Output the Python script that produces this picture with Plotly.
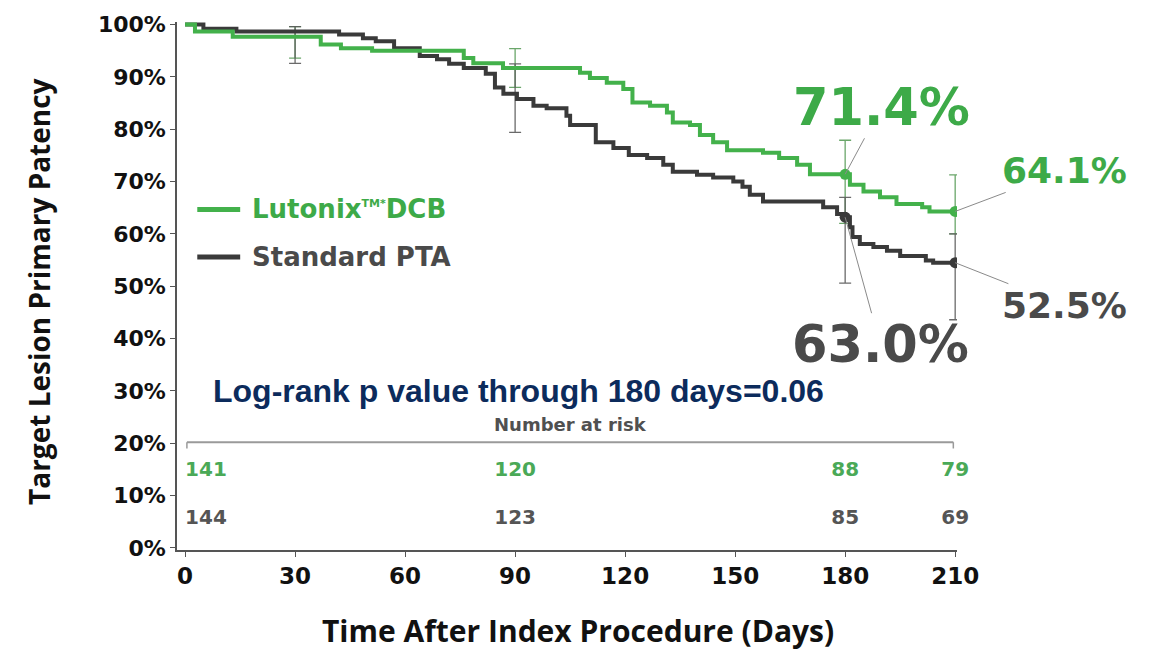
import plotly.graph_objects as go

# ---- Data ----
dcb_days = [0, 2.7, 13, 37, 42.5, 51, 76, 78.6, 86.7, 107.7, 110.4, 115, 119.5, 122, 126.8,
            131.4, 133, 137.7, 140.4, 144, 147.8, 157.6, 162, 166.9, 170.4, 181.3, 185,
            189.5, 194, 201, 203, 210]
dcb_patency = [100, 98.7, 97.7, 96.2, 95.5, 95.0, 93.6, 92.6, 91.7, 90.8, 89.8, 88.9, 87.7,
               85.1, 84.5, 83.2, 81.3, 80.8, 78.9, 77.5, 76.0, 75.5, 74.5, 73.2, 71.4, 69.4,
               68.1, 67.0, 65.7, 65.1, 64.3, 64.3]

pta_days = [0, 5, 14, 42, 48.5, 52, 57, 64, 68.7, 72, 76, 82, 84.5, 86.8, 90.5, 95, 98.6,
            104, 105, 112, 116.8, 121, 126, 130.4, 133, 139.6, 144, 149.5, 152, 154, 157.6,
            174, 177.8, 180, 181.3, 182, 184, 187.7, 191.4, 195, 202, 204, 210]
pta_patency = [100, 99.2, 98.7, 98.1, 97.4, 96.8, 95.5, 94.0, 93.4, 92.5, 91.7, 90.6, 88.0,
               86.8, 85.8, 84.5, 84.0, 82.6, 80.8, 77.5, 76.4, 75.1, 74.5, 73.2, 71.9, 71.3,
               70.8, 70.0, 69.0, 67.5, 66.2, 65.1, 63.8, 63.2, 61.3, 59.4, 58.1, 57.5, 56.8,
               55.8, 54.9, 54.5, 54.5]

ci_days = [30, 90, 180, 210]
dcb_ci_mid = [97.7, 91.7, 71.4, 64.3]
dcb_ci_upper = [99.6, 95.4, 77.9, 71.3]
dcb_ci_lower = [93.6, 88.0, 62.0, 60.0]
pta_ci_mid = [98.7, 85.8, 63.2, 54.5]
pta_ci_upper = [99.6, 92.5, 67.0, 60.0]
pta_ci_lower = [92.6, 79.4, 50.6, 43.6]

marker_days = [180, 210]
dcb_marker_vals = [71.4, 64.3]
pta_marker_vals = [63.2, 54.5]
dcb_labels = ["71.4%", "64.1%"]
pta_labels = ["63.0%", "52.5%"]

risk_days = [0, 90, 180, 210]
dcb_at_risk = [141, 120, 88, 79]
pta_at_risk = [144, 123, 85, 69]

x_ticks = [0, 30, 60, 90, 120, 150, 180, 210]
y_ticks = [0, 10, 20, 30, 40, 50, 60, 70, 80, 90, 100]
y_tick_text = [f"{v}%" for v in y_ticks]

GREEN = "#43b14b"
GREEN_TXT = "#3daa48"
DARK = "#3a3a3a"
GREY_TXT = "#4a4a4a"

fig = go.Figure()

# confidence bars
fig.add_trace(go.Scatter(
    x=ci_days, y=dcb_ci_mid, mode="markers", marker=dict(size=1, opacity=0),
    error_y=dict(type="data", symmetric=False,
                 array=[u - m for u, m in zip(dcb_ci_upper, dcb_ci_mid)],
                 arrayminus=[m - l for m, l in zip(dcb_ci_mid, dcb_ci_lower)],
                 color="rgba(80,150,80,0.85)", thickness=1.3, width=6),
    showlegend=False, hoverinfo="skip"))
fig.add_trace(go.Scatter(
    x=ci_days, y=pta_ci_mid, mode="markers", marker=dict(size=1, opacity=0),
    error_y=dict(type="data", symmetric=False,
                 array=[u - m for u, m in zip(pta_ci_upper, pta_ci_mid)],
                 arrayminus=[m - l for m, l in zip(pta_ci_mid, pta_ci_lower)],
                 color="rgba(90,90,90,0.9)", thickness=1.3, width=6),
    showlegend=False, hoverinfo="skip"))

# KM curves
fig.add_trace(go.Scatter(x=pta_days, y=pta_patency, mode="lines", line_shape="hv",
                         line=dict(color=DARK, width=4), name="Standard PTA", showlegend=False))
fig.add_trace(go.Scatter(x=dcb_days, y=dcb_patency, mode="lines", line_shape="hv",
                         line=dict(color=GREEN, width=4), name="Lutonix DCB", showlegend=False))

# dots
fig.add_trace(go.Scatter(x=marker_days, y=dcb_marker_vals, mode="markers",
                         marker=dict(color=GREEN, size=11), showlegend=False))
fig.add_trace(go.Scatter(x=marker_days, y=pta_marker_vals, mode="markers",
                         marker=dict(color=DARK, size=11), showlegend=False))

# number at risk rows
pos = ["middle right", "middle center", "middle center", "middle center"]
fig.add_trace(go.Scatter(x=risk_days, y=[14.7] * len(risk_days), mode="text",
                         text=[str(v) for v in dcb_at_risk], textposition=pos, cliponaxis=False,
                         textfont=dict(family="DejaVu Sans", size=20, color="#4aa957", weight="bold"),
                         showlegend=False, hoverinfo="skip"))
fig.add_trace(go.Scatter(x=risk_days, y=[5.5] * len(risk_days), mode="text",
                         text=[str(v) for v in pta_at_risk], textposition=pos, cliponaxis=False,
                         textfont=dict(family="DejaVu Sans", size=20, color="#555555", weight="bold"),
                         showlegend=False, hoverinfo="skip"))

annotations = []
big = dict(family="DejaVu Sans", size=51, weight="bold")
mid = dict(family="DejaVu Sans", size=36, weight="bold")
annotations.append(dict(x=180, y=dcb_marker_vals[0], text=dcb_labels[0], ax=36, ay=-67,
                        font=dict(color=GREEN_TXT, **big)))
annotations.append(dict(x=210, y=dcb_marker_vals[1], text=dcb_labels[1], ax=109, ay=-41,
                        font=dict(color=GREEN_TXT, **mid)))
annotations.append(dict(x=180, y=pta_marker_vals[0], text=pta_labels[0], ax=35, ay=127,
                        font=dict(color=GREY_TXT, **big)))
annotations.append(dict(x=210, y=pta_marker_vals[1], text=pta_labels[1], ax=109, ay=43,
                        font=dict(color=GREY_TXT, **mid)))
for a in annotations:
    a.update(xref="x", yref="y", axref="pixel", ayref="pixel", showarrow=True,
             arrowhead=0, arrowwidth=1, arrowcolor="#8a8a8a")

# legend
annotations.append(dict(x=0.094, y=0.645, xref="paper", yref="paper", xanchor="left", yanchor="middle",
                        text="Lutonix<sup><span style='font-size:11px'>TM*</span></sup>DCB",
                        showarrow=False,
                        font=dict(family="DejaVu Sans", size=26, color=GREEN_TXT, weight="bold")))
annotations.append(dict(x=0.094, y=0.555, xref="paper", yref="paper", xanchor="left", yanchor="middle",
                        text="Standard PTA", showarrow=False,
                        font=dict(family="DejaVu Sans", size=26, color=GREY_TXT, weight="bold")))

# log-rank
annotations.append(dict(x=0.043, y=0.301, xref="paper", yref="paper", xanchor="left", yanchor="middle",
                        text="Log-rank p value through 180 days=0.06", showarrow=False,
                        font=dict(family="Liberation Sans", size=32, color="#0c2b5c", weight="bold")))
annotations.append(dict(x=0.504, y=0.237, xref="paper", yref="paper", xanchor="center", yanchor="middle",
                        text="Number at risk", showarrow=False,
                        font=dict(family="DejaVu Sans", size=18, color="#505050", weight="bold")))

# axis titles
annotations.append(dict(x=-0.176, y=0.49, xref="paper", yref="paper", textangle=-90,
                        xanchor="center", yanchor="middle",
                        text="Target Lesion Primary Patency", showarrow=False,
                        font=dict(family="Open Sans", size=28, color="#111111", weight="bold")))
annotations.append(dict(x=0.514, y=-0.153, xref="paper", yref="paper",
                        xanchor="center", yanchor="middle",
                        text="Time After Index Procedure (Days)", showarrow=False,
                        font=dict(family="Open Sans", size=30, color="#111111", weight="bold")))

shapes = [
    dict(type="line", xref="paper", yref="paper", x0=0.026, x1=0.081, y0=0.645, y1=0.645,
         line=dict(color=GREEN, width=5)),
    dict(type="line", xref="paper", yref="paper", x0=0.026, x1=0.081, y0=0.555, y1=0.555,
         line=dict(color=DARK, width=5)),
    # number-at-risk rule
    dict(type="line", xref="x", yref="y", x0=0.5, x1=209.5, y0=20.2, y1=20.2,
         line=dict(color="#9a9a9a", width=2)),
    dict(type="line", xref="x", yref="y", x0=0.5, x1=0.5, y0=20.2, y1=19.0,
         line=dict(color="#9a9a9a", width=1.5)),
    dict(type="line", xref="x", yref="y", x0=209.5, x1=209.5, y0=20.2, y1=19.0,
         line=dict(color="#9a9a9a", width=1.5)),
]

fig.update_layout(
    width=1159, height=651,
    margin=dict(l=177, r=202, t=15, b=101),
    plot_bgcolor="white", paper_bgcolor="white",
    annotations=annotations, shapes=shapes,
    xaxis=dict(range=[-2.2, 210.5], tickvals=x_ticks, showgrid=False, zeroline=False,
               showline=True, linecolor="#555555", linewidth=1.5,
               ticks="outside", ticklen=5, tickcolor="#555555",
               tickfont=dict(family="DejaVu Sans", size=23, color="#111111", weight="bold")),
    yaxis=dict(range=[-0.4, 100.5], tickvals=y_ticks, ticktext=y_tick_text, showgrid=False,
               zeroline=False, showline=True, linecolor="#555555", linewidth=1.5,
               ticks="outside", ticklen=5, tickcolor="#555555",
               tickfont=dict(family="DejaVu Sans", size=22, color="#111111", weight="bold")),
)

fig.write_html("out.html", config={"displayModeBar": False},
               post_script="document.body.style.margin='0px';document.body.style.overflow='hidden';")
